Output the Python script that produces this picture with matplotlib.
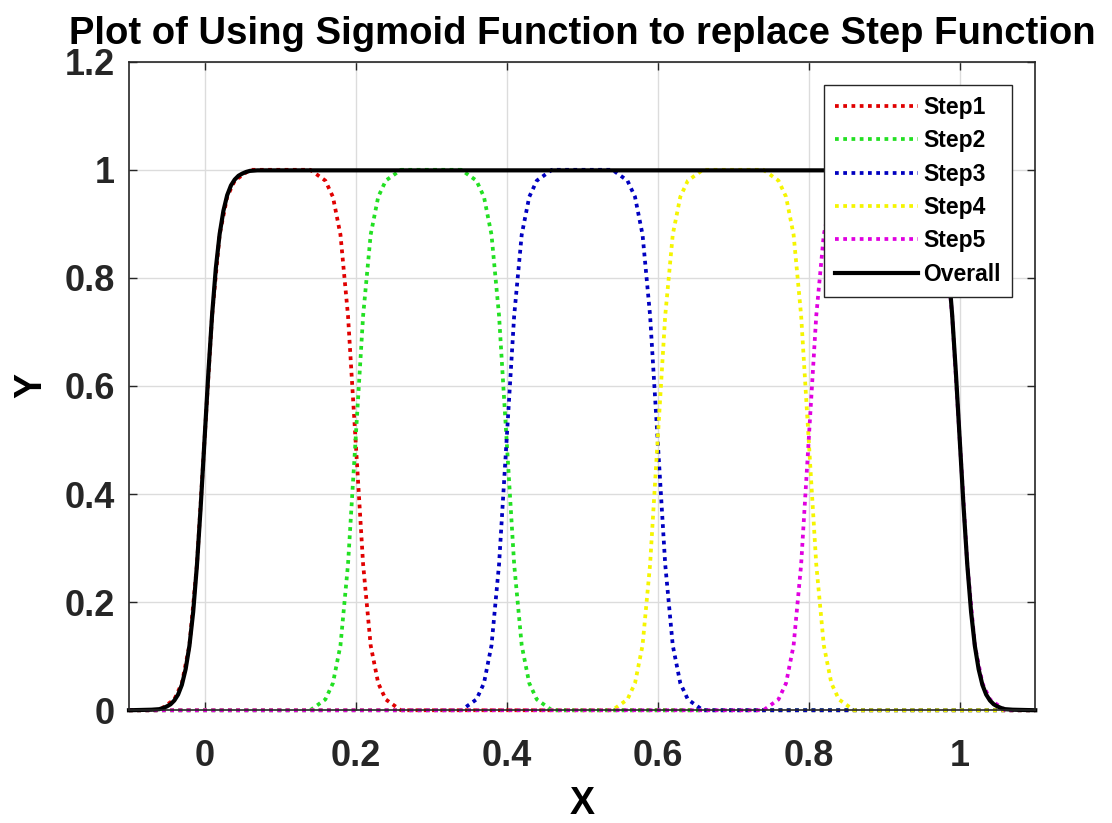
import matplotlib
matplotlib.use('Agg')
import matplotlib.pyplot as plt
from matplotlib import ticker

plt.rcParams['font.family'] = ['Liberation Sans', 'DejaVu Sans']
plt.rcParams['font.weight'] = 'bold'

step1_x = [-0.10, -0.06, -0.05, -0.04, -0.03, -0.02, -0.01, 0.00, 0.01, 0.02, 0.03, 0.04, 0.05, 0.06,
           0.14, 0.15, 0.16, 0.17, 0.18, 0.19, 0.20, 0.21, 0.22, 0.23, 0.24, 0.25, 0.26, 1.10]
step1_y = [0.00, 0.00, 0.01, 0.02, 0.05, 0.12, 0.27, 0.50, 0.73, 0.88, 0.95, 0.98, 0.99, 1.00,
           1.00, 0.99, 0.98, 0.95, 0.88, 0.73, 0.50, 0.27, 0.12, 0.05, 0.02, 0.01, 0.00, 0.00]

step2_x = [-0.10, 0.14, 0.15, 0.16, 0.17, 0.18, 0.19, 0.20, 0.21, 0.22, 0.23, 0.24, 0.25, 0.26,
           0.34, 0.35, 0.36, 0.37, 0.38, 0.39, 0.40, 0.41, 0.42, 0.43, 0.44, 0.45, 0.46, 1.10]
step2_y = [0.00, 0.00, 0.01, 0.02, 0.05, 0.12, 0.27, 0.50, 0.73, 0.88, 0.95, 0.98, 0.99, 1.00,
           1.00, 0.99, 0.98, 0.95, 0.88, 0.73, 0.50, 0.27, 0.12, 0.05, 0.02, 0.01, 0.00, 0.00]

step3_x = [-0.10, 0.34, 0.35, 0.36, 0.37, 0.38, 0.39, 0.40, 0.41, 0.42, 0.43, 0.44, 0.45, 0.46,
           0.54, 0.55, 0.56, 0.57, 0.58, 0.59, 0.60, 0.61, 0.62, 0.63, 0.64, 0.65, 0.66, 1.10]
step3_y = [0.00, 0.00, 0.01, 0.02, 0.05, 0.12, 0.27, 0.50, 0.73, 0.88, 0.95, 0.98, 0.99, 1.00,
           1.00, 0.99, 0.98, 0.95, 0.88, 0.73, 0.50, 0.27, 0.12, 0.05, 0.02, 0.01, 0.00, 0.00]

step4_x = [-0.10, 0.54, 0.55, 0.56, 0.57, 0.58, 0.59, 0.60, 0.61, 0.62, 0.63, 0.64, 0.65, 0.66,
           0.74, 0.75, 0.76, 0.77, 0.78, 0.79, 0.80, 0.81, 0.82, 0.83, 0.84, 0.85, 0.86, 1.10]
step4_y = [0.00, 0.00, 0.01, 0.02, 0.05, 0.12, 0.27, 0.50, 0.73, 0.88, 0.95, 0.98, 0.99, 1.00,
           1.00, 0.99, 0.98, 0.95, 0.88, 0.73, 0.50, 0.27, 0.12, 0.05, 0.02, 0.01, 0.00, 0.00]

step5_x = [-0.10, 0.74, 0.75, 0.76, 0.77, 0.78, 0.79, 0.80, 0.81, 0.82, 0.83, 0.84, 0.85, 0.86,
           0.94, 0.95, 0.96, 0.97, 0.98, 0.99, 1.00, 1.01, 1.02, 1.03, 1.04, 1.05, 1.06, 1.10]
step5_y = [0.00, 0.00, 0.01, 0.02, 0.05, 0.12, 0.27, 0.50, 0.73, 0.88, 0.95, 0.98, 0.99, 1.00,
           1.00, 0.99, 0.98, 0.95, 0.88, 0.73, 0.50, 0.27, 0.12, 0.05, 0.02, 0.01, 0.00, 0.00]

# overall curve, read a bit denser at the knees
overall_x = [-0.100, -0.070, -0.060, -0.055, -0.050, -0.045, -0.040, -0.035, -0.030, -0.025,
             -0.020, -0.015, -0.010, -0.005, 0.000, 0.005, 0.010, 0.015, 0.020, 0.025,
             0.030, 0.035, 0.040, 0.045, 0.050, 0.055, 0.060, 0.070,
             0.930, 0.940, 0.945, 0.950, 0.955, 0.960, 0.965, 0.970, 0.975, 0.980, 0.985,
             0.990, 0.995, 1.000, 1.005, 1.010, 1.015, 1.020, 1.025, 1.030, 1.035, 1.040,
             1.045, 1.050, 1.055, 1.060, 1.070, 1.100]
overall_y = [0.000, 0.001, 0.002, 0.004, 0.007, 0.011, 0.018, 0.029, 0.047, 0.076,
             0.119, 0.182, 0.269, 0.378, 0.500, 0.622, 0.731, 0.818, 0.881, 0.924,
             0.953, 0.971, 0.982, 0.989, 0.993, 0.996, 0.998, 0.999,
             0.999, 0.998, 0.996, 0.993, 0.989, 0.982, 0.971, 0.953, 0.924, 0.881, 0.818,
             0.731, 0.622, 0.500, 0.378, 0.269, 0.182, 0.119, 0.076, 0.047, 0.029, 0.018,
             0.011, 0.007, 0.004, 0.002, 0.001, 0.000]

labels = ['Step1', 'Step2', 'Step3', 'Step4', 'Step5', 'Overall']
colors = ['#e00000', '#22e022', '#0000c0', '#f5f500', '#e000e0', 'black']
series = [(step1_x, step1_y), (step2_x, step2_y), (step3_x, step3_y),
          (step4_x, step4_y), (step5_x, step5_y), (overall_x, overall_y)]

fig = plt.figure(figsize=(11.12, 8.23), dpi=100)
ax = fig.add_axes([0.116, 0.137, 0.815, 0.788])

for (xs, ys), lab, col in zip(series, labels, colors):
    if lab == 'Overall':
        ax.plot(xs, ys, color=col, lw=3, label=lab, solid_joinstyle='round', clip_on=False)
    else:
        ax.plot(xs, ys, color=col, lw=2.7, ls=(0, (1, 1.2)), label=lab, clip_on=False)

ax.set_xlim(-0.1, 1.1)
ax.set_ylim(0, 1.2)
ax.set_xticks([0, 0.2, 0.4, 0.6, 0.8, 1.0])
ax.set_yticks([0, 0.2, 0.4, 0.6, 0.8, 1.0, 1.2])
ax.xaxis.set_major_formatter(ticker.FormatStrFormatter('%g'))
ax.yaxis.set_major_formatter(ticker.FormatStrFormatter('%g'))
ax.grid(True, color='#dcdcdc', lw=1)
ax.set_axisbelow(True)
ax.tick_params(direction='in', length=6, width=1, top=True, right=True,
               labelsize=26, colors='#262626')
ax.tick_params(axis='x', pad=21)
ax.tick_params(axis='y', pad=10)
for sp in ax.spines.values():
    sp.set_linewidth(1.2)
    sp.set_color('#262626')

ax.set_title('Plot of Using Sigmoid Function to replace Step Function',
             fontsize=27.5, fontweight='bold', pad=13)
ax.set_xlabel('X', fontsize=27, fontweight='bold', labelpad=8)
ax.set_ylabel('Y', fontsize=27, fontweight='bold', labelpad=11)

leg = ax.legend(loc='upper right', fontsize=16.5, handlelength=3.6, handletextpad=0.25,
                labelspacing=0.45, borderaxespad=1.0, fancybox=False, framealpha=1,
                edgecolor='#262626', borderpad=0.5)
leg.get_frame().set_linewidth(1)
leg.set_zorder(5)
for t in leg.get_texts():
    t.set_fontweight('bold')

fig.savefig('out.png', dpi=100)
